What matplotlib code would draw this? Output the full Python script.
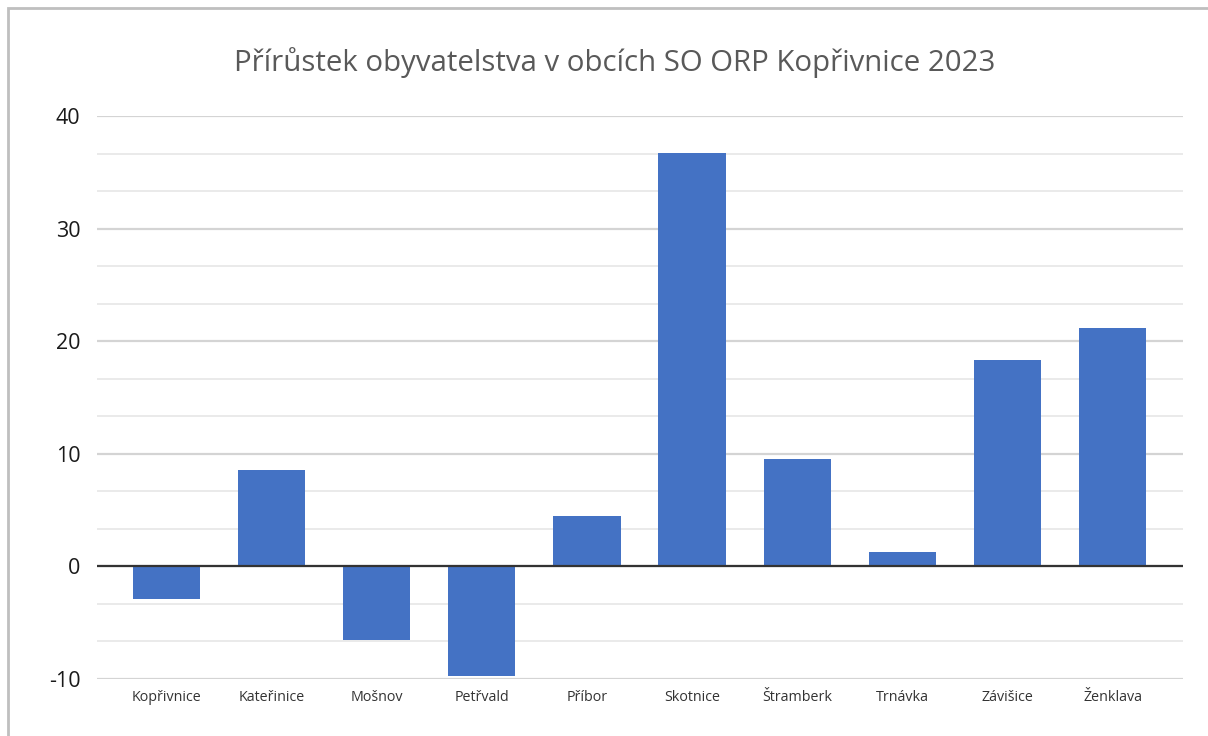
import matplotlib
matplotlib.use("Agg")
import matplotlib.pyplot as plt
from matplotlib.patches import Rectangle
import numpy as np

obce = ['Kopřivnice', 'Kateřinice', 'Mošnov', 'Petřvald', 'Příbor',
        'Skotnice', 'Štramberk', 'Trnávka', 'Závišice', 'Ženklava']
prirustek = [-2.9, 8.6, -6.5, -9.7, 4.5, 36.7, 9.5, 1.3, 18.3, 21.2]
yticks = [-10, 0, 10, 20, 30, 40]

BARCOL = '#4472C4'

fig = plt.figure(figsize=(12.08, 7.36), dpi=100)
ax = fig.add_axes([0.0803, 0.0774, 0.899, 0.765])

x = np.arange(len(obce))
ax.bar(x, prirustek, 0.64, color=BARCOL, zorder=3)

ax.set_xlim(-0.66, 9.67)
ax.set_ylim(-10, 40)

# major + minor gridlines like in Excel
ax.set_yticks(yticks)
ax.set_yticks(np.arange(-10, 40.01, 10 / 3), minor=True)
ax.yaxis.grid(True, which='major', color='#d4d4d4', lw=1.6, zorder=0)
ax.yaxis.grid(True, which='minor', color='#e8e8e8', lw=1.3, zorder=0)
ax.axhline(0, color='#333333', lw=1.6, zorder=4)

ax.set_yticklabels([str(t) for t in yticks], fontsize=15.5, color='#1a1a1a',
                   family='Open Sans')
ax.set_xticks(x)
ax.set_xticklabels(obce, fontsize=10.3, color='#333333', family='Open Sans')
ax.tick_params(axis='both', which='both', length=0)
ax.tick_params(axis='y', pad=12)
ax.tick_params(axis='x', pad=8)
for s in ax.spines.values():
    s.set_visible(False)

fig.text(0.509, 0.915, 'Přírůstek obyvatelstva v obcích SO ORP Kopřivnice 2023',
         ha='center', va='center', fontsize=21.2, color='#595959', family='Open Sans')

# outer chart border (display coords, runs off the right and bottom edges)
fig.patches.append(Rectangle((8, -20), 1220, 748, transform=None, fill=False,
                             edgecolor='#bfbfbf', lw=2))

fig.savefig('out.png', dpi=100)
